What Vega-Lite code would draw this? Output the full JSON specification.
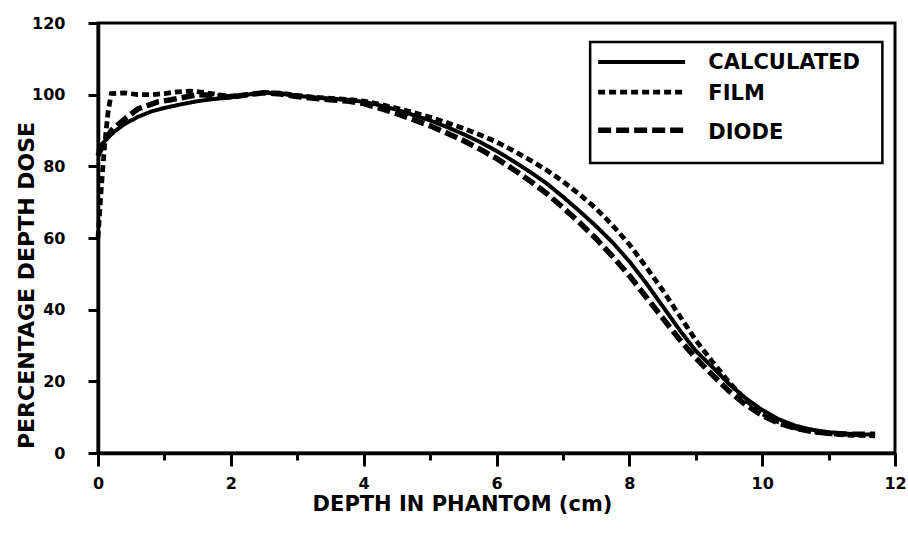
{
  "$schema": "https://vega.github.io/schema/vega-lite/v6.json",
  "width": 797,
  "height": 430,
  "autosize": {"type": "none"},
  "padding": {"left": 98, "top": 23, "right": 13, "bottom": 82},
  "background": "white",
  "config": {
    "view": {"stroke": "black", "strokeWidth": 3},
    "font": "DejaVu Sans",
    "axis": {
      "domainColor": "black", "domainWidth": 3.5, "tickColor": "black", "tickWidth": 3,
      "grid": false, "labelFont": "DejaVu Sans", "labelFontWeight": "bold", "labelFontSize": 16,
      "labelColor": "black", "titleFont": "DejaVu Sans", "titleFontWeight": "bold", "titleColor": "black"
    }
  },
  "datasets": {
    "curves": [
      {"series": "CALCULATED", "depth": 0, "dose": 84}, {"series": "CALCULATED", "depth": 0.05, "dose": 86}, {"series": "CALCULATED", "depth": 0.15, "dose": 88}, {"series": "CALCULATED", "depth": 0.25, "dose": 89.8}, {"series": "CALCULATED", "depth": 0.4, "dose": 91.8}, {"series": "CALCULATED", "depth": 0.6, "dose": 93.8}, {"series": "CALCULATED", "depth": 0.8, "dose": 95.3}, {"series": "CALCULATED", "depth": 1.0, "dose": 96.3}, {"series": "CALCULATED", "depth": 1.25, "dose": 97.3}, {"series": "CALCULATED", "depth": 1.5, "dose": 98.2}, {"series": "CALCULATED", "depth": 1.75, "dose": 98.8}, {"series": "CALCULATED", "depth": 2.0, "dose": 99.2}, {"series": "CALCULATED", "depth": 2.25, "dose": 100}, {"series": "CALCULATED", "depth": 2.5, "dose": 100.6}, {"series": "CALCULATED", "depth": 2.75, "dose": 100.3}, {"series": "CALCULATED", "depth": 3.0, "dose": 99.7}, {"series": "CALCULATED", "depth": 3.25, "dose": 99.2}, {"series": "CALCULATED", "depth": 3.5, "dose": 98.9}, {"series": "CALCULATED", "depth": 3.75, "dose": 98.6}, {"series": "CALCULATED", "depth": 4.0, "dose": 98}, {"series": "CALCULATED", "depth": 4.25, "dose": 97}, {"series": "CALCULATED", "depth": 4.5, "dose": 95.8}, {"series": "CALCULATED", "depth": 4.75, "dose": 94.3}, {"series": "CALCULATED", "depth": 5.0, "dose": 92.8}, {"series": "CALCULATED", "depth": 5.25, "dose": 91}, {"series": "CALCULATED", "depth": 5.5, "dose": 89}, {"series": "CALCULATED", "depth": 5.75, "dose": 86.8}, {"series": "CALCULATED", "depth": 6.0, "dose": 84.3}, {"series": "CALCULATED", "depth": 6.25, "dose": 81.5}, {"series": "CALCULATED", "depth": 6.5, "dose": 78.5}, {"series": "CALCULATED", "depth": 6.75, "dose": 75.3}, {"series": "CALCULATED", "depth": 7.0, "dose": 71.5}, {"series": "CALCULATED", "depth": 7.25, "dose": 67.5}, {"series": "CALCULATED", "depth": 7.5, "dose": 63.3}, {"series": "CALCULATED", "depth": 7.75, "dose": 58.7}, {"series": "CALCULATED", "depth": 8.0, "dose": 53.5}, {"series": "CALCULATED", "depth": 8.25, "dose": 47.5}, {"series": "CALCULATED", "depth": 8.5, "dose": 41}, {"series": "CALCULATED", "depth": 8.75, "dose": 34.5}, {"series": "CALCULATED", "depth": 9.0, "dose": 28.5}, {"series": "CALCULATED", "depth": 9.25, "dose": 24}, {"series": "CALCULATED", "depth": 9.5, "dose": 19.3}, {"series": "CALCULATED", "depth": 9.75, "dose": 15.3}, {"series": "CALCULATED", "depth": 10.0, "dose": 12}, {"series": "CALCULATED", "depth": 10.25, "dose": 9.4}, {"series": "CALCULATED", "depth": 10.5, "dose": 7.6}, {"series": "CALCULATED", "depth": 10.75, "dose": 6.5}, {"series": "CALCULATED", "depth": 11.0, "dose": 5.8}, {"series": "CALCULATED", "depth": 11.25, "dose": 5.4}, {"series": "CALCULATED", "depth": 11.5, "dose": 5.2}, {"series": "CALCULATED", "depth": 11.7, "dose": 5.1},
      {"series": "FILM", "depth": 0, "dose": 60}, {"series": "FILM", "depth": 0.05, "dose": 74}, {"series": "FILM", "depth": 0.1, "dose": 86}, {"series": "FILM", "depth": 0.15, "dose": 95}, {"series": "FILM", "depth": 0.2, "dose": 100.3}, {"series": "FILM", "depth": 0.4, "dose": 100.5}, {"series": "FILM", "depth": 0.6, "dose": 100}, {"series": "FILM", "depth": 0.8, "dose": 100}, {"series": "FILM", "depth": 1.0, "dose": 100.3}, {"series": "FILM", "depth": 1.2, "dose": 100.8}, {"series": "FILM", "depth": 1.4, "dose": 101}, {"series": "FILM", "depth": 1.6, "dose": 100.6}, {"series": "FILM", "depth": 1.8, "dose": 100}, {"series": "FILM", "depth": 2.0, "dose": 99.6}, {"series": "FILM", "depth": 2.25, "dose": 100}, {"series": "FILM", "depth": 2.5, "dose": 100.6}, {"series": "FILM", "depth": 2.75, "dose": 100.4}, {"series": "FILM", "depth": 3.0, "dose": 99.8}, {"series": "FILM", "depth": 3.25, "dose": 99.3}, {"series": "FILM", "depth": 3.5, "dose": 99}, {"series": "FILM", "depth": 3.75, "dose": 98.7}, {"series": "FILM", "depth": 4.0, "dose": 98.2}, {"series": "FILM", "depth": 4.25, "dose": 97.3}, {"series": "FILM", "depth": 4.5, "dose": 96.2}, {"series": "FILM", "depth": 4.75, "dose": 95}, {"series": "FILM", "depth": 5.0, "dose": 93.7}, {"series": "FILM", "depth": 5.25, "dose": 92.2}, {"series": "FILM", "depth": 5.5, "dose": 90.6}, {"series": "FILM", "depth": 5.75, "dose": 88.8}, {"series": "FILM", "depth": 6.0, "dose": 86.8}, {"series": "FILM", "depth": 6.25, "dose": 84.4}, {"series": "FILM", "depth": 6.5, "dose": 81.8}, {"series": "FILM", "depth": 6.75, "dose": 79}, {"series": "FILM", "depth": 7.0, "dose": 75.8}, {"series": "FILM", "depth": 7.25, "dose": 72.2}, {"series": "FILM", "depth": 7.5, "dose": 68.2}, {"series": "FILM", "depth": 7.75, "dose": 63.5}, {"series": "FILM", "depth": 8.0, "dose": 58.2}, {"series": "FILM", "depth": 8.25, "dose": 52}, {"series": "FILM", "depth": 8.5, "dose": 45.5}, {"series": "FILM", "depth": 8.75, "dose": 38.5}, {"series": "FILM", "depth": 9.0, "dose": 31.5}, {"series": "FILM", "depth": 9.25, "dose": 25.5}, {"series": "FILM", "depth": 9.5, "dose": 19.8}, {"series": "FILM", "depth": 9.75, "dose": 14.8}, {"series": "FILM", "depth": 10.0, "dose": 11}, {"series": "FILM", "depth": 10.25, "dose": 8.6}, {"series": "FILM", "depth": 10.5, "dose": 7}, {"series": "FILM", "depth": 10.75, "dose": 6}, {"series": "FILM", "depth": 11.0, "dose": 5.4}, {"series": "FILM", "depth": 11.25, "dose": 5}, {"series": "FILM", "depth": 11.5, "dose": 4.9}, {"series": "FILM", "depth": 11.7, "dose": 4.8},
      {"series": "DIODE", "depth": 0, "dose": 83}, {"series": "DIODE", "depth": 0.1, "dose": 87}, {"series": "DIODE", "depth": 0.2, "dose": 90}, {"series": "DIODE", "depth": 0.4, "dose": 93.2}, {"series": "DIODE", "depth": 0.6, "dose": 96}, {"series": "DIODE", "depth": 0.9, "dose": 98}, {"series": "DIODE", "depth": 1.1, "dose": 98.6}, {"series": "DIODE", "depth": 1.3, "dose": 99.3}, {"series": "DIODE", "depth": 1.5, "dose": 100}, {"series": "DIODE", "depth": 1.75, "dose": 99.8}, {"series": "DIODE", "depth": 2.0, "dose": 99.3}, {"series": "DIODE", "depth": 2.25, "dose": 100}, {"series": "DIODE", "depth": 2.5, "dose": 100.5}, {"series": "DIODE", "depth": 2.75, "dose": 100.2}, {"series": "DIODE", "depth": 3.0, "dose": 99.5}, {"series": "DIODE", "depth": 3.25, "dose": 99}, {"series": "DIODE", "depth": 3.5, "dose": 98.6}, {"series": "DIODE", "depth": 3.75, "dose": 98.2}, {"series": "DIODE", "depth": 4.0, "dose": 97.5}, {"series": "DIODE", "depth": 4.25, "dose": 96.2}, {"series": "DIODE", "depth": 4.5, "dose": 94.7}, {"series": "DIODE", "depth": 4.75, "dose": 93}, {"series": "DIODE", "depth": 5.0, "dose": 91.3}, {"series": "DIODE", "depth": 5.25, "dose": 89.3}, {"series": "DIODE", "depth": 5.5, "dose": 87.2}, {"series": "DIODE", "depth": 5.75, "dose": 84.8}, {"series": "DIODE", "depth": 6.0, "dose": 82.2}, {"series": "DIODE", "depth": 6.25, "dose": 79.2}, {"series": "DIODE", "depth": 6.5, "dose": 76}, {"series": "DIODE", "depth": 6.75, "dose": 72.5}, {"series": "DIODE", "depth": 7.0, "dose": 68.5}, {"series": "DIODE", "depth": 7.25, "dose": 64.3}, {"series": "DIODE", "depth": 7.5, "dose": 59.8}, {"series": "DIODE", "depth": 7.75, "dose": 54.8}, {"series": "DIODE", "depth": 8.0, "dose": 49.5}, {"series": "DIODE", "depth": 8.25, "dose": 43.6}, {"series": "DIODE", "depth": 8.5, "dose": 37.7}, {"series": "DIODE", "depth": 8.75, "dose": 31.8}, {"series": "DIODE", "depth": 9.0, "dose": 26.5}, {"series": "DIODE", "depth": 9.25, "dose": 21.8}, {"series": "DIODE", "depth": 9.5, "dose": 17.3}, {"series": "DIODE", "depth": 9.75, "dose": 13.5}, {"series": "DIODE", "depth": 10.0, "dose": 10.5}, {"series": "DIODE", "depth": 10.25, "dose": 8.3}, {"series": "DIODE", "depth": 10.5, "dose": 6.9}, {"series": "DIODE", "depth": 10.75, "dose": 6}, {"series": "DIODE", "depth": 11.0, "dose": 5.5}, {"series": "DIODE", "depth": 11.25, "dose": 5.3}, {"series": "DIODE", "depth": 11.5, "dose": 5.2}, {"series": "DIODE", "depth": 11.7, "dose": 5.2}
    ],
    "legendbox": [{"x1": 7.41, "x2": 11.81, "y1": 80.9, "y2": 114.7}],
    "legendrows": [
      {"series": "CALCULATED", "x1": 7.53, "x2": 8.84, "ly": 109.1, "tx": 9.19, "ty": 108.7},
      {"series": "FILM", "x1": 7.53, "x2": 8.84, "ly": 100.7, "tx": 9.19, "ty": 100.3},
      {"series": "DIODE", "x1": 7.53, "x2": 8.84, "ly": 90.1, "tx": 9.19, "ty": 89.2}
    ]
  },
  "layer": [
    {
      "data": {"name": "curves"},
      "mark": {"type": "line", "color": "black", "strokeCap": "butt"},
      "encoding": {
        "x": {
          "field": "depth", "type": "quantitative",
          "scale": {"domain": [0, 12], "nice": false, "zero": false},
          "axis": {
            "values": [0, 1, 2, 3, 4, 5, 6, 7, 8, 9, 10, 11, 12],
            "format": "d",
            "labelExpr": "datum.value % 2 === 0 ? datum.label : ''",
            "tickSize": {"condition": {"test": "datum.value % 2 === 0", "value": 13}, "value": 7},
            "labelPadding": 9, "labelFlush": false,
            "title": "DEPTH IN PHANTOM (cm)", "titleFontSize": 21,
            "titleX": 364, "titleY": 57, "titleAlign": "center", "titleBaseline": "alphabetic", "titleAnchor": null
          }
        },
        "y": {
          "field": "dose", "type": "quantitative",
          "scale": {"domain": [0, 120], "nice": false},
          "axis": {
            "values": [0, 10, 20, 30, 40, 50, 60, 70, 80, 90, 100, 110, 120],
            "format": "d",
            "labelExpr": "datum.value % 20 === 0 ? datum.label : ''",
            "tickSize": {"condition": {"test": "datum.value % 20 === 0", "value": 10}, "value": 6},
            "labelPadding": 23, "labelFlush": false,
            "title": "PERCENTAGE DEPTH DOSE", "titleFontSize": 22,
            "titleX": -65, "titleY": 262, "titleAlign": "center", "titleBaseline": "alphabetic", "titleAngle": -90
          }
        },
        "detail": {"field": "series"},
        "strokeDash": {
          "field": "series", "type": "nominal",
          "scale": {"domain": ["CALCULATED", "FILM", "DIODE"], "range": [[1, 0], [7, 4], [13, 5]]},
          "legend": null
        },
        "strokeWidth": {
          "field": "series", "type": "nominal",
          "scale": {"domain": ["CALCULATED", "FILM", "DIODE"], "range": [4, 5.5, 5.5]},
          "legend": null
        }
      }
    },
    {
      "data": {"name": "legendbox"},
      "mark": {"type": "rect", "fill": "white", "stroke": "black", "strokeWidth": 2.5},
      "encoding": {
        "x": {"field": "x1", "type": "quantitative"},
        "x2": {"field": "x2"},
        "y": {"field": "y1", "type": "quantitative"},
        "y2": {"field": "y2"}
      }
    },
    {
      "data": {"name": "legendrows"},
      "mark": {"type": "rule", "color": "black", "strokeCap": "butt"},
      "encoding": {
        "x": {"field": "x1", "type": "quantitative"},
        "x2": {"field": "x2"},
        "y": {"field": "ly", "type": "quantitative"},
        "strokeDash": {"field": "series", "type": "nominal", "legend": null},
        "strokeWidth": {"field": "series", "type": "nominal", "legend": null}
      }
    },
    {
      "data": {"name": "legendrows"},
      "mark": {"type": "text", "align": "left", "baseline": "middle", "font": "DejaVu Sans", "fontWeight": "bold", "fontSize": 21, "color": "black"},
      "encoding": {
        "x": {"field": "tx", "type": "quantitative"},
        "y": {"field": "ty", "type": "quantitative"},
        "text": {"field": "series"}
      }
    }
  ]
}
